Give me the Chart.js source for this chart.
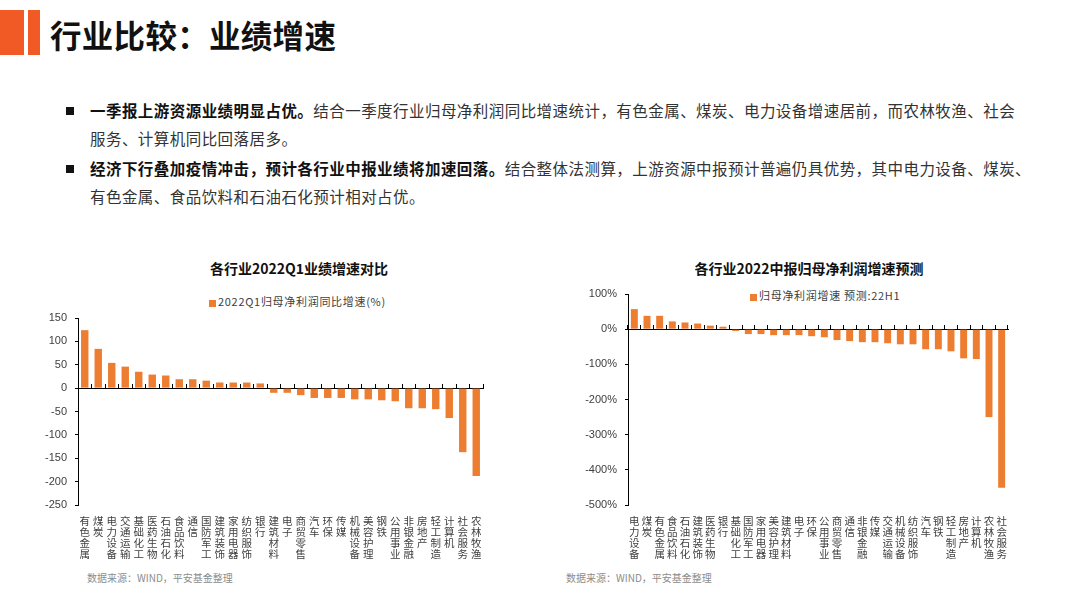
<!DOCTYPE html>
<html>
<head>
<meta charset="utf-8">
<script src="https://cdn.jsdelivr.net/npm/chart.js@4.4.0/dist/chart.umd.min.js"></script>
<style>
  html, body { margin:0; padding:0; background:#fff; }
  body { width:1080px; height:605px; position:relative; overflow:hidden; font-family:"Noto Sans CJK SC", "Noto Sans", sans-serif; }
  .abs { position:absolute; white-space:nowrap; }
  .bar1 { left:0; top:10px; width:24px; height:45px; background:#F15A24; }
  .bar2 { left:28px; top:10px; width:12px; height:45px; background:#F15A24; }
  .head { left:50px; top:11px; font-size:31.5px; font-weight:bold; color:#111; line-height:46px; letter-spacing:0.3px; }
  .para { left:90px; font-size:15.5px; line-height:28px; color:#333; letter-spacing:0.45px; }
  .para b { color:#111; }
  .sq { width:8px; height:8px; background:#111; }
  .ctitle { font-size:14px; font-weight:bold; color:#111; transform:translateX(-50%); line-height:18px; }
  .leg { font-size:11px; color:#404040; letter-spacing:0.7px; line-height:14px; }
  .leg i { display:inline-block; width:7px; height:7px; background:#ED7D31; margin-right:2px; vertical-align:-1px; }
  .src { font-size:10px; color:#8c8c8c; line-height:14px; }
  canvas { position:absolute; }
</style>
</head>
<body>
<div class="abs bar1"></div>
<div class="abs bar2"></div>
<div class="abs head">行业比较：业绩增速</div>

<div class="abs sq" style="left:66px;top:107px"></div>
<div class="abs para" style="top:96px"><b>一季报上游资源业绩明显占优。</b>结合一季度行业归母净利润同比增速统计，有色金属、煤炭、电力设备增速居前，而农林牧渔、社会<br>服务、计算机同比回落居多。</div>
<div class="abs sq" style="left:66px;top:165px"></div>
<div class="abs para" style="top:154px"><b>经济下行叠加疫情冲击，预计各行业中报业绩将加速回落。</b>结合整体法测算，上游资源中报预计普遍仍具优势，其中电力设备、煤炭、<br>有色金属、食品饮料和石油石化预计相对占优。</div>

<div class="abs ctitle" style="left:299px;top:259px">各行业2022Q1业绩增速对比</div>
<div class="abs leg" style="left:209px;top:294px"><i></i>2022Q1归母净利润同比增速(%)</div>
<div class="abs ctitle" style="left:809px;top:259px">各行业2022中报归母净利润增速预测</div>
<div class="abs leg" style="left:750px;top:288px"><i></i>归母净利润增速 预测:22H1</div>

<canvas id="q1Chart" style="left:28px;top:300px;width:470px;height:265px"></canvas>
<canvas id="h1Chart" style="left:570px;top:276px;width:450px;height:289px"></canvas>

<div class="abs src" style="left:87px;top:571px">数据来源：WIND，平安基金整理</div>
<div class="abs src" style="left:566px;top:571px">数据来源：WIND，平安基金整理</div>

<script>
// 2022Q1 归母净利润同比增速(%)
const q1Cats = ['有色金属','煤炭','电力设备','交通运输','基础化工','医药生物','石油石化','食品饮料','通信','国防军工',
  '建筑装饰','家用电器','纺织服饰','银行','建筑材料','电子','商贸零售','汽车','环保','传媒',
  '机械设备','美容护理','钢铁','公用事业','非银金融','房地产','轻工制造','计算机','社会服务','农林牧渔'];
const q1Growth = [124,84,54,46,35,29,27,19,19,16,12,12,12,10,-10,-10,-15,-21,-21,-21,-24,-24,-26,-28,-43,-43,-45,-64,-137,-188];
const q1Ticks = {min:-250, max:150, step:50};

// 22H1 归母净利润增速预测(%)
const h1Cats = ['电力设备','煤炭','有色金属','食品饮料','石油石化','建筑装饰','医药生物','银行','基础化工','国防军工',
  '家用电器','美容护理','建筑材料','电子','环保','公用事业','商贸零售','通信','非银金融','传媒',
  '交通运输','机械设备','纺织服饰','汽车','钢铁','轻工制造','房地产','计算机','农林牧渔','社会服务'];
const h1Growth = [57,38,38,22,19,16,10,7,-5,-14,-14,-17,-17,-17,-20,-23,-31,-34,-37,-37,-40,-43,-43,-57,-57,-63,-83,-85,-250,-451];
const h1Ticks = {min:-500, max:100, step:100};

const ORANGE = '#ED7D31';
const INK = '#404040';

function vert(c){ return c.split(''); }   // stack label characters vertically

function makeBar(id, cats, vals, tk, yWidth, pad, suffix){
  const labels = cats.map(vert);
  return new Chart(document.getElementById(id), {
    type:'bar',
    data:{ labels, datasets:[{ label:'', data:vals, backgroundColor:ORANGE, borderWidth:0, barPercentage:0.55, categoryPercentage:1 }] },
    options:{
      responsive:false, animation:false,
      layout:{ padding:pad },
      plugins:{ legend:{display:false}, title:{display:false}, tooltip:{enabled:false} },
      scales:{
        x:{
          position:'bottom',
          grid:{display:false}, border:{display:false},
          ticks:{ autoSkip:false, maxRotation:0, minRotation:0, padding:2, color:INK,
                  font:{family:'"Noto Sans CJK SC", sans-serif', size:10.5, lineHeight:1.07} },
          afterFit: s => { s.height = 55; }
        },
        // zero line with small tick marks between categories
        x2:{
          type:'category', position:{y:0}, offset:true,
          ticks:{display:false},
          grid:{ display:true, offset:true, drawOnChartArea:false, drawTicks:true, tickLength:-5, color:'#000', lineWidth:1 },
          border:{ display:true, color:'#000', width:1 }
        },
        y:{
          min:tk.min, max:tk.max,
          ticks:{ stepSize:tk.step, padding:8, color:INK,
                  font:{family:'"Liberation Sans", Arial, sans-serif', size:11},
                  callback: v => v + suffix },
          grid:{ display:true, drawOnChartArea:false, drawTicks:true, tickLength:3, color:'#000' },
          border:{ display:true, color:'#000', width:1 },
          afterFit: s => { s.width = yWidth; }
        }
      }
    }
  });
}

function sizeCanvas(id){
  const c = document.getElementById(id);
  c.width = parseInt(c.style.width); c.height = parseInt(c.style.height);
}
sizeCanvas('q1Chart'); sizeCanvas('h1Chart');

makeBar('q1Chart', q1Cats, q1Growth, q1Ticks, 40, {left:10, right:15, top:18, bottom:5}, '');
makeBar('h1Chart', h1Cats, h1Growth, h1Ticks, 48, {left:10, right:12, top:18, bottom:5}, '%');
</script>
</body>
</html>
